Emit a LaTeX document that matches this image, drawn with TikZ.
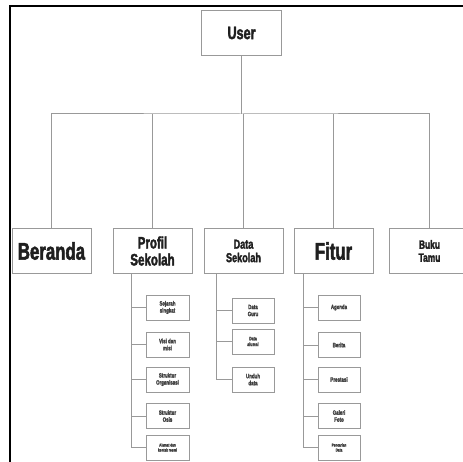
\documentclass[tikz,border=0pt]{standalone}
\usepackage{fontspec}
\newfontfamily\imp{Liberation Sans}[FakeStretch=0.7, FakeBold=2.2]
\begin{document}
\begin{tikzpicture}[x=1pt,y=-1pt,
  conn/.style={draw=black!40, line width=1pt},
  mainbox/.style={draw=black!40, line width=1pt, fill=white, minimum width=79pt, minimum height=45pt, inner sep=1pt, align=center, text=black!88, font=\imp\bfseries},
  subbox/.style={draw=black!40, line width=0.9pt, fill=white, minimum width=43pt, minimum height=25pt, inner sep=1pt, align=center, text=black!75, font=\imp\bfseries\fontsize{6.3}{7}\selectfont},
  tinybox/.style={subbox, font=\imp\bfseries\fontsize{4.4}{5}\selectfont}]
\clip (0,0) rectangle (463,462);
\fill[white] (0,0) rectangle (463,462);
% frame
\draw[line width=2.6pt, black] (10,462) -- (10,6) -- (463,6);
% level 0
\node[mainbox, minimum width=80pt, font=\imp\bfseries\fontsize{18}{20}\selectfont] (user) at (241.5,33) {User};
% level 1
\node[mainbox, font=\imp\bfseries\fontsize{24}{26}\selectfont] (beranda) at (51.5,251) {Beranda};
\node[mainbox, font=\imp\bfseries\fontsize{16.5}{17}\selectfont] (profil) at (152.5,251) {Profil\\Sekolah};
\node[mainbox, font=\imp\bfseries\fontsize{13}{13.5}\selectfont] (data) at (243.5,251) {Data\\Sekolah};
\node[mainbox, font=\imp\bfseries\fontsize{24}{26}\selectfont] (fitur) at (333.5,251) {Fitur};
\node[mainbox, minimum width=81pt, font=\imp\bfseries\fontsize{12}{13}\selectfont] (buku) at (429.5,251) {Buku\\Tamu};
% bus
\coordinate (bus) at (241.5,114);
\draw[conn] (user.south) -- (bus);
\draw[conn] (beranda.north) |- (bus) -| (buku.north);
\draw[conn] (profil.north) -- (profil.north |- bus);
\draw[conn] (data.north) -- (data.north |- bus);
\draw[conn] (fitur.north) -- (fitur.north |- bus);
% Profil Sekolah children
\node[subbox] (p1) at (167.5,307.5) {Sejarah\\singkat};
\node[subbox] (p2) at (167.5,344.5) {Visi dan\\misi};
\node[subbox] (p3) at (167.5,379.5) {Struktur\\Organisasi};
\node[subbox] (p4) at (167.5,416) {Struktur\\Osis};
\node[tinybox] (p5) at (167.5,447.5) {Alamat dan\\kontak resmi};
\coordinate (pv) at (131,273.5);
\draw[conn] (pv) |- (p5.west);
\foreach \c in {p1,p2,p3,p4} \draw[conn] (pv |- \c.west) -- (\c.west);
% Data Sekolah children
\node[subbox, minimum width=42pt] (d1) at (253,310.5) {Data\\Guru};
\node[subbox, minimum width=42pt, font=\imp\bfseries\fontsize{5}{5.8}\selectfont] (d2) at (253,341.5) {Data\\alumni};
\node[subbox, minimum width=42pt] (d3) at (253,379.5) {Unduh\\data};
\coordinate (dv) at (216,273.5);
\draw[conn] (dv) |- (d3.west);
\foreach \c in {d1,d2} \draw[conn] (dv |- \c.west) -- (\c.west);
% Fitur children
\node[subbox, minimum width=42pt] (f1) at (339,307.5) {Agenda};
\node[subbox, minimum width=42pt] (f2) at (339,345) {Berita};
\node[subbox, minimum width=42pt] (f3) at (339,379.5) {Prestasi};
\node[subbox, minimum width=42pt] (f4) at (339,416) {Galeri\\Foto};
\node[tinybox, minimum width=42pt] (f5) at (339,447.5) {Pencarian\\Data};
\coordinate (fv) at (303,273.5);
\draw[conn] (fv) |- (f5.west);
\foreach \c in {f1,f2,f3,f4} \draw[conn] (fv |- \c.west) -- (\c.west);
\end{tikzpicture}
\end{document}
